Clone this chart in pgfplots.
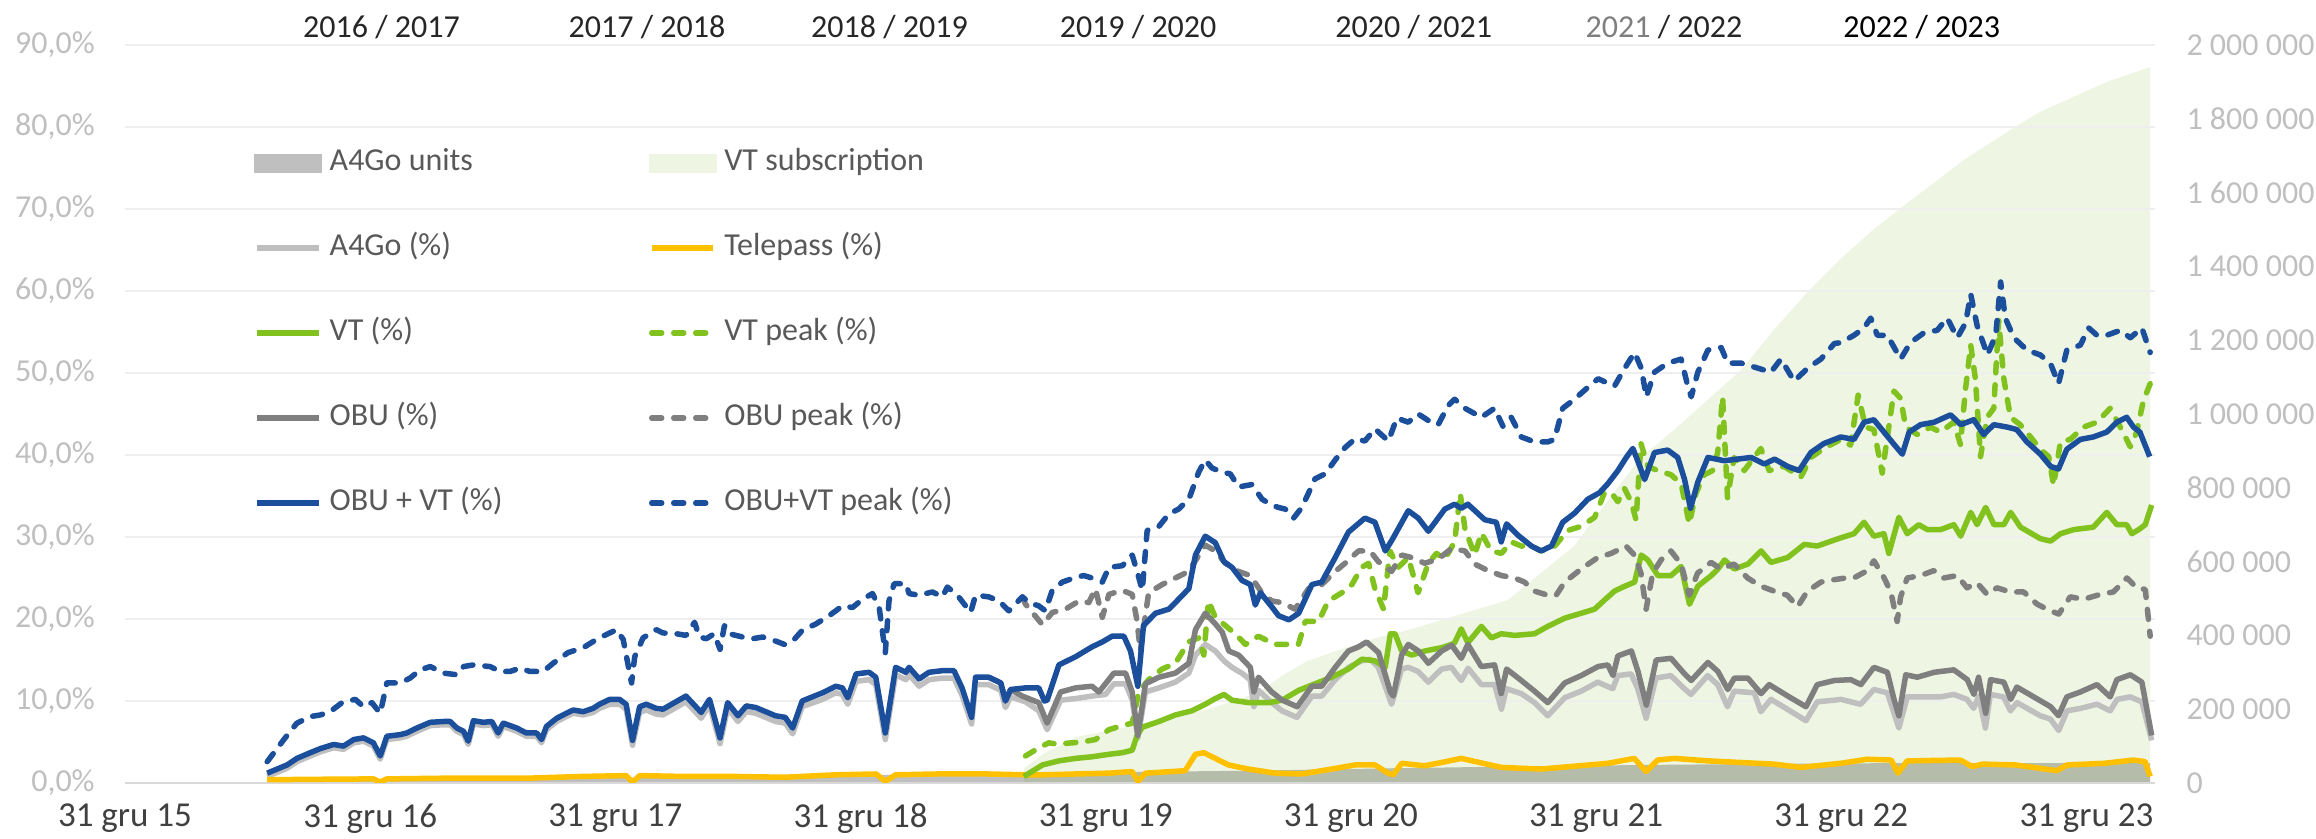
\documentclass[border=0pt]{standalone}
\usepackage{pgfplots}
\pgfplotsset{compat=1.18}
\usepackage{fontspec}
\setmainfont{Carlito}

\definecolor{ovc}{HTML}{1B4F9C}
\definecolor{vtc}{HTML}{82C21E}
\definecolor{obuc}{HTML}{7F7F7F}
\definecolor{a4goc}{HTML}{BFBFBF}
\definecolor{tpc}{HTML}{FFC000}
\definecolor{vtarea}{RGB}{113,172,13}
\definecolor{vtswatch}{HTML}{EEF5E2}
\definecolor{gridc}{HTML}{EFEFEF}
\definecolor{axisc}{HTML}{D9D9D9}
\definecolor{ticklab}{HTML}{BFBFBF}
\definecolor{xlab}{HTML}{404040}
\definecolor{legtext}{HTML}{595959}
\definecolor{toplab}{HTML}{262626}

\newcommand\chartfont{\fontsize{16}{19}\selectfont}
\newcommand\xfont{\fontsize{17.5}{20}\selectfont}

\tikzset{
  a4gol/.style={draw=a4goc, line width=2.75pt, line join=round},
  tpl/.style={draw=tpc, line width=2.75pt, line join=round},
  vtl/.style={draw=vtc, line width=2.75pt, line join=round},
  vtpl/.style={vtl, dash pattern=on 5pt off 6pt, line cap=round},
  obul/.style={draw=obuc, line width=2.75pt, line join=round},
  obupl/.style={obul, dash pattern=on 5pt off 6pt, line cap=round},
  ovl/.style={draw=ovc, line width=2.75pt, line join=round},
  ovpl/.style={ovl, dash pattern=on 5pt off 6pt, line cap=round},
}
\pgfplotsset{
  limg/.style={legend image code/.code={\draw[#1] (1.4pt,0pt) -- (32.1pt,0pt);}},
  aimg/.style={legend image code/.code={\fill[#1] (0pt,-4.5pt) rectangle (33.5pt,4.5pt);}},
}

\begin{document}
\begin{tikzpicture}
\pgfplotsset{every axis/.append style={
  scale only axis, width=1015pt, height=369pt,
  xmin=0, xmax=8.28,
  tick label style={font=\chartfont},
  major tick length=0pt,
}}

% right axis: units (areas)
\begin{axis}[
  ymin=0, ymax=2000000,
  axis x line=none,
  axis y line*=right,
  y axis line style={draw=none},
  scaled y ticks=false,
  ytick={0,200000,400000,600000,800000,1000000,1200000,1400000,1600000,1800000,2000000},
  yticklabels={0,200 000,400 000,600 000,800 000,1 000 000,1 200 000,1 400 000,1 600 000,1 800 000,2 000 000},
  yticklabel style={anchor=west, inner sep=0pt, xshift=15.5pt, text=ticklab},
]
\addplot[fill=a4goc, draw=none] coordinates {
(0.580,4000) (1.035,8000) (2.07,14000) (3.105,22000) (3.726,28000) (4.14,30000) (4.658,34000)
(5.175,40000) (5.693,45000) (6.21,49000) (6.728,52000) (7.245,54000) (8.26,54000)
} \closedcycle;
\addplot[fill=vtarea, fill opacity=0.12, draw=none] coordinates {
(3.667,40000) (3.747,80000) (3.881,125000) (4.037,145000) (4.150,162000) (4.419,200000)
(4.626,246000) (4.720,291000) (4.823,331000) (4.968,364000) (5.103,393000) (5.237,415000)
(5.372,442000) (5.641,496000) (5.910,642000) (6.044,762000) (6.179,880000) (6.324,960000)
(6.458,1040000) (6.593,1120000) (6.728,1230000) (6.862,1330000) (6.997,1420000) (7.131,1500000)
(7.266,1570000) (7.504,1690000) (7.690,1770000) (7.814,1820000) (7.949,1860000) (8.083,1900000)
(8.260,1940000)
} \closedcycle;
\end{axis}

% left axis: shares (%)
\begin{axis}[
  name=main,
  ymin=0, ymax=90,
  axis x line*=bottom,
  axis y line*=left,
  y axis line style={draw=none},
  x axis line style={draw=axisc, line width=1.2pt, -},
  ytick={0,10,...,90},
  yticklabels={{0,0\%},{10,0\%},{20,0\%},{30,0\%},{40,0\%},{50,0\%},{60,0\%},{70,0\%},{80,0\%},{90,0\%}},
  yticklabel style={anchor=east, inner sep=0pt, xshift=-15pt, text=ticklab},
  xtick={0,1,2,3,4,5,6,7,8},
  xticklabels={31 gru 15,31 gru 16,31 gru 17,31 gru 18,31 gru 19,31 gru 20,31 gru 21,31 gru 22,31 gru 23},
  xticklabel style={anchor=north, inner sep=0pt, yshift=-10pt, text=xlab, font=\xfont},
  ymajorgrids, grid style={draw=gridc, line width=1pt},
  clip mode=individual,
  legend columns=2,
  legend cell align=left,
  legend style={
    at={(0.0635,0.8597)}, anchor=north west,
    draw=none, fill=none, inner sep=0pt, outer sep=0pt,
    font=\chartfont, text=legtext,
    row sep=28pt,
    /tikz/every odd column/.append style={column sep=4pt},
    /tikz/every even column/.append style={column sep=73pt},
    nodes={inner sep=0pt, text height=11pt, text depth=3.5pt},
  },
]
\addlegendimage{aimg=a4goc}\addlegendentry{A4Go units}
\addlegendimage{aimg=vtswatch}\addlegendentry{VT subscription}
\addlegendimage{limg=a4gol}\addlegendentry{A4Go (\%)}
\addlegendimage{limg=tpl}\addlegendentry{Telepass (\%)}
\addlegendimage{limg=vtl}\addlegendentry{VT (\%)}
\addlegendimage{limg=vtpl}\addlegendentry{VT peak (\%)}
\addlegendimage{limg=obul}\addlegendentry{OBU (\%)}
\addlegendimage{limg=obupl}\addlegendentry{OBU peak (\%)}
\addlegendimage{limg=ovl}\addlegendentry{OBU + VT (\%)}
\addlegendimage{limg=ovpl}\addlegendentry{OBU+VT peak (\%)}

% A4Go (%)
\addplot[a4gol, forget plot] coordinates {
(0.580,0.8) (0.661,1.8) (0.701,2.6) (0.756,3.3) (0.797,3.8) (0.851,4.3) (0.891,4.1) (0.933,4.9)
(0.973,5.1) (1.013,4.5) (1.041,2.9) (1.068,5.3) (1.123,5.5) (1.149,5.7) (1.190,6.3) (1.245,7.0)
(1.299,7.1) (1.326,7.1) (1.354,6.3) (1.381,5.9) (1.400,4.7) (1.421,7.2) (1.461,7.0) (1.496,7.1)
(1.522,5.7) (1.543,6.9) (1.598,6.3) (1.637,5.7) (1.679,5.7) (1.699,4.9) (1.719,6.5) (1.761,7.5)
(1.800,8.1) (1.828,8.5) (1.869,8.3) (1.909,8.6) (1.935,9.1) (1.977,9.6) (2.017,9.6) (2.044,9.0)
(2.070,4.6) (2.099,8.6) (2.126,8.9) (2.167,8.4) (2.194,8.3) (2.288,9.9) (2.350,7.9) (2.384,9.5)
(2.427,4.8) (2.458,9.1) (2.500,7.5) (2.534,8.7) (2.573,8.5) (2.653,7.5) (2.693,7.3) (2.723,6.0)
(2.762,9.3) (2.845,10.2) (2.899,11.0) (2.926,10.8) (2.948,9.6) (2.982,12.4) (3.035,12.6) (3.062,12.0)
(3.101,5.3) (3.143,13.2) (3.185,12.6) (3.198,13.2) (3.239,11.8) (3.279,12.6) (3.334,12.8) (3.381,12.8)
(3.414,10.7) (3.453,7.2) (3.469,12.0) (3.523,12.0) (3.572,11.3) (3.591,9.2) (3.612,10.5) (3.673,9.9)
(3.727,8.8) (3.761,6.5) (3.816,10.1) (3.877,10.3) (3.944,10.6) (3.999,10.8) (4.033,12.1) (4.081,12.1)
(4.108,10.1) (4.131,5.5) (4.162,11.1) (4.217,11.6) (4.284,12.3) (4.339,13.4) (4.366,15.6) (4.406,16.9)
(4.447,16.1) (4.482,14.9) (4.515,14.1) (4.555,13.4) (4.589,12.6) (4.604,9.3) (4.623,11.3) (4.677,9.8)
(4.719,8.8) (4.780,8.0) (4.841,10.6) (4.881,10.6) (4.936,12.6) (4.990,14.1) (5.044,14.9) (5.078,15.1)
(5.112,14.1) (5.166,9.6) (5.207,13.9) (5.234,14.1) (5.274,13.6) (5.316,12.3) (5.370,13.9) (5.410,14.1)
(5.450,12.5) (5.478,14.0) (5.532,12.0) (5.586,12.0) (5.614,9.0) (5.634,11.5) (5.695,10.9) (5.749,9.8)
(5.803,8.2) (5.872,10.4) (5.939,11.2) (6.007,12.3) (6.068,11.5) (6.089,13.1) (6.143,13.3) (6.170,11.5)
(6.204,7.9) (6.244,12.8) (6.305,13.1) (6.360,11.5) (6.387,10.8) (6.455,13.1) (6.496,12.0) (6.536,9.3)
(6.563,11.2) (6.645,11.0) (6.672,8.7) (6.713,10.2) (6.780,9.0) (6.856,7.6) (6.902,9.9) (6.971,10.1)
(6.998,10.2) (7.079,9.6) (7.133,11.4) (7.188,11.0) (7.235,6.7) (7.269,10.5) (7.404,10.5) (7.459,10.8)
(7.513,10.2) (7.540,9.1) (7.561,10.6) (7.588,6.7) (7.608,10.8) (7.662,10.5) (7.690,8.8) (7.717,9.8)
(7.812,8.2) (7.853,7.8) (7.887,6.4) (7.921,8.8) (7.975,9.1) (8.043,9.6) (8.097,8.8) (8.125,10.2)
(8.179,10.5) (8.226,9.9) (8.266,5.2)
};

% Telepass (%)
\addplot[tpl, forget plot] coordinates {
(0.580,0.4) (0.776,0.45) (1.014,0.5) (1.041,0.1) (1.068,0.5) (1.346,0.6) (1.656,0.6) (1.863,0.8)
(2.044,0.9) (2.070,0.1) (2.099,0.9) (2.277,0.8) (2.484,0.8) (2.691,0.7) (2.898,1.0) (3.064,1.1)
(3.101,0.2) (3.143,1.0) (3.312,1.1) (3.519,1.1) (3.674,1.0) (3.742,1.0) (4.013,1.2) (4.108,1.4)
(4.131,0.2) (4.162,1.2) (4.324,1.5) (4.366,3.5) (4.400,3.7) (4.447,3.0) (4.501,2.2) (4.582,1.7)
(4.691,1.2) (4.799,1.1) (4.921,1.7) (5.017,2.2) (5.098,2.2) (5.152,1.2) (5.173,1.0) (5.207,2.4)
(5.301,2.1) (5.370,2.5) (5.450,3.0) (5.614,1.9) (5.776,1.7) (6.048,2.4) (6.156,3.0) (6.204,1.4)
(6.251,2.8) (6.320,3.0) (6.455,2.7) (6.726,2.3) (6.835,1.9) (6.998,2.4) (7.106,2.9) (7.204,2.8)
(7.231,1.2) (7.269,2.7) (7.486,2.8) (7.534,2.0) (7.576,2.3) (7.711,2.2) (7.879,1.5) (7.921,2.2)
(8.073,2.4) (8.192,2.8) (8.239,2.6) (8.260,0.8)
};

% VT (%)
\addplot[vtl, forget plot] coordinates {
(3.666,0.8) (3.742,2.2) (3.809,2.7) (3.877,3.0) (3.944,3.2) (4.013,3.5) (4.068,3.7) (4.108,4.0)
(4.128,5.8) (4.149,6.8) (4.217,7.5) (4.284,8.3) (4.351,8.8) (4.406,9.6) (4.447,10.3) (4.482,10.8)
(4.515,10.1) (4.583,9.8) (4.665,9.8) (4.720,10.1) (4.787,11.3) (4.854,12.1) (4.921,12.9) (4.990,13.9)
(5.045,15.1) (5.098,14.9) (5.140,14.1) (5.161,18.2) (5.180,18.2) (5.207,16.1) (5.248,15.6) (5.302,16.1)
(5.370,16.5) (5.411,16.9) (5.423,17.1) (5.450,18.8) (5.477,17.1) (5.532,19.1) (5.573,17.7) (5.613,18.2)
(5.668,18.0) (5.749,18.2) (5.803,19.1) (5.872,20.1) (5.939,20.7) (5.994,21.2) (6.034,22.3) (6.075,23.4)
(6.117,24.0) (6.157,24.5) (6.184,27.8) (6.211,27.2) (6.252,25.3) (6.306,25.3) (6.347,26.4) (6.381,21.8)
(6.415,24.0) (6.470,25.3) (6.497,26.1) (6.524,27.2) (6.564,26.1) (6.619,26.7) (6.673,28.3) (6.713,26.9)
(6.782,27.5) (6.849,29.1) (6.902,28.9) (6.998,29.9) (7.052,30.4) (7.093,31.8) (7.133,30.1) (7.174,30.4)
(7.194,28.0) (7.235,32.4) (7.269,30.4) (7.316,31.5) (7.351,30.9) (7.405,30.9) (7.459,31.5) (7.487,30.1)
(7.528,33.0) (7.554,31.5) (7.589,33.6) (7.623,31.5) (7.663,31.5) (7.691,33.0) (7.731,31.2) (7.812,29.8)
(7.854,29.5) (7.894,30.4) (7.948,30.9) (8.028,31.2) (8.083,33.0) (8.124,31.5) (8.164,31.5) (8.185,30.4)
(8.213,30.9) (8.240,31.5) (8.266,33.9)
};

% VT peak (%)
\addplot[vtpl, forget plot] coordinates {
(3.673,3.3) (3.728,4.3) (3.768,4.9) (3.809,4.7) (3.822,4.8) (3.904,5.0) (3.958,5.3) (4.013,6.5)
(4.067,7.0) (4.108,7.3) (4.135,11.1) (4.175,12.6) (4.230,13.9) (4.284,14.6) (4.338,17.2) (4.379,17.7)
(4.400,15.6) (4.419,22.2) (4.447,20.2) (4.488,19.2) (4.528,18.2) (4.570,16.9) (4.623,17.9) (4.691,16.9)
(4.745,16.9) (4.786,16.9) (4.814,19.7) (4.868,19.7) (4.908,22.2) (4.963,23.2) (5.004,24.2) (5.044,26.3)
(5.072,26.8) (5.098,23.7) (5.133,21.2) (5.159,28.3) (5.193,26.3) (5.234,27.5) (5.274,23.2) (5.316,26.8)
(5.349,28.0) (5.383,27.3) (5.423,29.4) (5.446,35.3) (5.465,31.0) (5.505,27.8) (5.532,30.5) (5.572,28.3)
(5.614,28.0) (5.654,29.4) (5.695,28.9) (5.736,28.9) (5.776,28.3) (5.831,28.9) (5.885,30.8) (5.939,31.3)
(5.994,32.4) (6.034,35.4) (6.062,35.4) (6.089,34.3) (6.116,35.9) (6.143,34.3) (6.163,32.1) (6.183,41.4)
(6.211,38.6) (6.251,38.1) (6.305,37.6) (6.347,36.5) (6.380,31.6) (6.408,35.4) (6.442,37.6) (6.475,38.1)
(6.496,40.3) (6.516,47.1) (6.536,34.8) (6.563,39.7) (6.604,38.1) (6.672,40.8) (6.706,38.1) (6.767,38.6)
(6.835,37.3) (6.876,39.7) (6.929,40.8) (6.998,41.9) (7.038,41.2) (7.069,47.3) (7.099,43.4) (7.133,43.1)
(7.167,37.8) (7.188,42.2) (7.215,47.8) (7.242,46.9) (7.263,43.4) (7.310,42.5) (7.364,43.4) (7.404,42.8)
(7.459,44.0) (7.486,41.3) (7.507,48.1) (7.528,53.4) (7.547,49.3) (7.568,39.8) (7.595,44.6) (7.622,45.7)
(7.642,56.4) (7.663,49.3) (7.690,44.6) (7.730,43.7) (7.772,42.2) (7.812,40.7) (7.846,39.8) (7.866,36.3)
(7.894,41.6) (7.934,41.9) (7.988,43.4) (8.043,44.0) (8.097,45.7) (8.138,43.4) (8.179,41.0) (8.205,42.8)
(8.232,46.6) (8.260,48.7)
};

% OBU (%)
\addplot[obul, forget plot] coordinates {
(3.523,12.9) (3.572,12.2) (3.591,10.0) (3.612,11.4) (3.660,10.6) (3.727,9.8) (3.761,7.3) (3.816,11.1)
(3.877,11.6) (3.944,11.8) (3.972,11.1) (3.999,12.1) (4.033,13.4) (4.081,13.4) (4.108,11.1) (4.131,5.8)
(4.162,12.1) (4.217,12.9) (4.284,13.4) (4.339,14.6) (4.366,18.7) (4.406,20.7) (4.447,19.4) (4.475,18.4)
(4.502,16.1) (4.542,15.6) (4.590,14.1) (4.604,11.1) (4.623,12.9) (4.677,11.1) (4.720,10.1) (4.781,9.3)
(4.841,11.8) (4.881,11.8) (4.936,14.1) (4.990,16.1) (5.031,16.6) (5.064,17.2) (5.113,15.9) (5.161,11.1)
(5.173,10.6) (5.207,15.6) (5.234,16.9) (5.275,16.1) (5.316,14.6) (5.370,16.1) (5.411,16.8) (5.450,15.2)
(5.477,16.9) (5.532,14.2) (5.586,14.4) (5.613,10.9) (5.635,13.9) (5.695,12.5) (5.749,11.2) (5.803,9.8)
(5.872,12.2) (5.939,13.1) (6.008,14.2) (6.048,14.4) (6.069,13.1) (6.089,15.5) (6.144,16.1) (6.171,13.6)
(6.205,9.5) (6.245,15.0) (6.306,15.2) (6.361,13.3) (6.388,12.5) (6.456,14.7) (6.497,13.6) (6.537,11.4)
(6.564,12.8) (6.619,12.8) (6.673,10.9) (6.706,12.0) (6.782,10.6) (6.856,9.3) (6.902,12.0) (6.972,12.5)
(7.039,12.6) (7.080,12.0) (7.133,14.1) (7.188,13.5) (7.215,10.2) (7.235,8.2) (7.263,13.2) (7.310,12.9)
(7.379,13.5) (7.459,13.8) (7.514,12.6) (7.541,10.8) (7.560,12.9) (7.589,8.5) (7.609,12.6) (7.663,12.3)
(7.691,10.2) (7.716,11.7) (7.785,10.5) (7.854,9.3) (7.886,8.2) (7.920,10.5) (7.975,11.1) (8.043,12.0)
(8.097,10.5) (8.124,12.6) (8.179,13.2) (8.226,12.3) (8.266,5.8)
};

% OBU peak (%)
\addplot[obupl, forget plot] coordinates {
(3.660,22.7) (3.673,21.8) (3.742,19.3) (3.782,20.8) (3.836,21.2) (3.891,22.2) (3.931,22.0) (3.958,23.7)
(3.986,20.2) (4.013,23.0) (4.067,23.5) (4.108,23.0) (4.128,19.7) (4.141,16.1) (4.175,23.2) (4.230,24.2)
(4.284,25.0) (4.338,25.8) (4.406,29.0) (4.447,28.3) (4.488,26.8) (4.542,25.8) (4.589,25.3) (4.637,23.2)
(4.677,22.2) (4.719,22.0) (4.772,21.2) (4.827,23.7) (4.881,24.2) (4.936,25.8) (4.976,26.8) (5.031,28.3)
(5.078,28.3) (5.112,27.0) (5.166,25.8) (5.207,27.8) (5.247,27.5) (5.301,26.8) (5.356,27.3) (5.410,28.6)
(5.465,28.3) (5.505,26.7) (5.559,25.9) (5.614,25.3) (5.668,25.0) (5.708,24.5) (5.749,23.4) (5.803,22.9)
(5.837,22.9) (5.872,24.5) (5.939,26.1) (6.007,27.5) (6.062,28.0) (6.122,28.9) (6.156,27.8) (6.183,25.6)
(6.204,21.2) (6.231,25.6) (6.265,27.2) (6.305,28.3) (6.347,26.7) (6.380,22.9) (6.414,25.6) (6.469,26.9)
(6.509,26.1) (6.563,26.7) (6.618,25.0) (6.672,24.0) (6.726,23.4) (6.780,22.9) (6.822,21.5) (6.862,23.4)
(6.917,24.5) (6.971,24.8) (7.017,25.0) (7.051,25.0) (7.106,25.9) (7.133,27.1) (7.175,25.0) (7.202,23.3)
(7.228,19.7) (7.242,22.7) (7.269,25.0) (7.324,25.3) (7.377,25.9) (7.418,25.0) (7.473,25.3) (7.513,23.8)
(7.554,24.4) (7.595,23.0) (7.635,23.8) (7.690,23.3) (7.744,23.3) (7.799,21.8) (7.839,21.2) (7.887,20.6)
(7.934,22.7) (7.988,22.4) (8.056,23.0) (8.110,23.3) (8.165,25.0) (8.205,23.8) (8.240,23.6) (8.260,17.9)
};

% OBU + VT (%)
\addplot[ovl, forget plot] coordinates {
(0.580,1.2) (0.661,2.2) (0.701,3.0) (0.756,3.7) (0.797,4.2) (0.851,4.7) (0.891,4.5) (0.933,5.3)
(0.973,5.5) (1.013,4.9) (1.041,3.3) (1.068,5.7) (1.123,5.9) (1.149,6.1) (1.190,6.7) (1.245,7.4)
(1.299,7.5) (1.326,7.5) (1.354,6.7) (1.381,6.3) (1.400,5.1) (1.421,7.6) (1.461,7.4) (1.496,7.5)
(1.522,6.1) (1.543,7.3) (1.598,6.7) (1.637,6.1) (1.679,6.1) (1.699,5.3) (1.719,6.9) (1.761,7.9)
(1.800,8.5) (1.828,8.9) (1.869,8.7) (1.909,9.1) (1.935,9.6) (1.977,10.2) (2.017,10.2) (2.044,9.6)
(2.070,5.2) (2.099,9.3) (2.126,9.6) (2.167,9.1) (2.194,9.0) (2.288,10.6) (2.350,8.6) (2.384,10.2)
(2.427,5.5) (2.458,9.8) (2.500,8.2) (2.534,9.4) (2.573,9.2) (2.653,8.2) (2.693,8.0) (2.723,6.7)
(2.762,10.0) (2.845,11.0) (2.899,11.8) (2.926,11.6) (2.948,10.4) (2.982,13.3) (3.035,13.5) (3.062,12.9)
(3.101,6.1) (3.143,14.1) (3.185,13.5) (3.198,14.1) (3.239,12.7) (3.279,13.5) (3.334,13.7) (3.381,13.7)
(3.414,11.6) (3.453,8.0) (3.469,12.9) (3.523,12.9) (3.572,12.2) (3.591,10.0) (3.612,11.4) (3.673,11.6)
(3.727,11.6) (3.750,10.0) (3.761,10.1) (3.809,14.4) (3.877,15.4) (3.944,16.6) (3.986,17.2) (4.026,17.9)
(4.074,17.9) (4.101,16.1) (4.131,11.8) (4.154,19.2) (4.203,20.7) (4.257,21.2) (4.284,22.0) (4.339,23.7)
(4.366,27.8) (4.406,30.1) (4.447,29.3) (4.482,27.0) (4.515,26.3) (4.556,24.7) (4.590,24.2) (4.610,21.7)
(4.631,23.2) (4.677,21.5) (4.705,20.4) (4.747,19.9) (4.787,20.7) (4.841,24.2) (4.881,24.5) (4.936,27.5)
(4.990,30.6) (5.057,32.3) (5.098,31.8) (5.140,28.3) (5.167,29.6) (5.234,33.2) (5.275,32.3) (5.316,30.7)
(5.383,33.4) (5.423,34.0) (5.450,33.5) (5.477,34.0) (5.546,32.1) (5.593,31.8) (5.613,29.4) (5.635,31.6)
(5.682,30.2) (5.736,28.9) (5.776,28.3) (5.818,28.9) (5.864,31.8) (5.912,32.9) (5.966,34.6) (6.014,35.4)
(6.048,36.5) (6.089,38.1) (6.123,39.7) (6.150,40.8) (6.171,39.2) (6.198,37.0) (6.238,40.3) (6.292,40.6)
(6.333,39.7) (6.361,37.0) (6.385,33.5) (6.415,36.7) (6.456,39.7) (6.523,39.3) (6.577,39.5) (6.632,39.7)
(6.686,38.9) (6.728,39.5) (6.782,38.6) (6.828,38.1) (6.876,40.3) (6.929,41.4) (6.998,42.2) (7.052,41.9)
(7.093,44.0) (7.133,44.3) (7.174,42.8) (7.215,41.3) (7.249,40.1) (7.277,42.8) (7.324,43.7) (7.379,44.0)
(7.446,44.9) (7.487,43.7) (7.540,44.3) (7.581,42.5) (7.622,43.7) (7.677,43.4) (7.716,43.1) (7.757,41.6)
(7.812,40.1) (7.854,38.6) (7.886,38.3) (7.920,40.7) (7.975,41.9) (8.028,42.2) (8.083,42.8) (8.124,44.0)
(8.164,44.6) (8.192,43.4) (8.218,42.8) (8.258,39.8)
};

% OBU+VT peak (%)
\addplot[ovpl, forget plot] coordinates {
(0.580,2.6) (0.648,5.3) (0.701,7.3) (0.756,8.1) (0.797,8.3) (0.837,8.7) (0.885,9.8) (0.939,10.2)
(0.973,9.3) (1.007,9.8) (1.041,8.5) (1.068,12.2) (1.123,12.2) (1.163,12.8) (1.204,13.8) (1.245,14.2)
(1.299,13.4) (1.354,13.2) (1.381,14.2) (1.421,14.4) (1.489,14.2) (1.530,13.6) (1.570,13.6) (1.610,14.0)
(1.652,13.6) (1.706,13.6) (1.746,14.6) (1.807,15.9) (1.869,16.5) (1.923,17.5) (1.963,18.1) (2.005,18.7)
(2.032,17.5) (2.066,12.2) (2.079,15.4) (2.113,17.7) (2.167,18.7) (2.194,18.3) (2.249,18.2) (2.288,18.0)
(2.323,19.6) (2.343,17.8) (2.371,17.6) (2.403,18.2) (2.427,16.3) (2.445,19.2) (2.465,18.2) (2.519,17.8)
(2.561,17.6) (2.601,17.8) (2.655,17.3) (2.689,16.9) (2.723,17.3) (2.762,18.6) (2.818,19.4) (2.872,20.4)
(2.926,21.6) (2.967,21.4) (3.008,22.4) (3.049,23.1) (3.076,21.4) (3.101,15.9) (3.116,22.2) (3.137,24.3)
(3.185,24.3) (3.198,23.1) (3.239,22.9) (3.293,23.3) (3.334,22.7) (3.354,23.9) (3.395,22.9) (3.449,20.8)
(3.469,22.9) (3.523,22.7) (3.565,22.2) (3.605,21.0) (3.660,22.7) (3.688,22.0) (3.727,21.6) (3.754,21.0)
(3.782,23.5) (3.823,24.5) (3.870,25.0) (3.910,25.3) (3.944,25.0) (3.986,24.5) (4.013,26.3) (4.068,26.5)
(4.108,27.8) (4.128,25.8) (4.149,23.5) (4.169,30.8) (4.217,31.3) (4.257,32.8) (4.297,33.4) (4.339,34.6)
(4.379,37.9) (4.406,39.4) (4.434,38.4) (4.475,37.9) (4.508,37.7) (4.542,36.1) (4.596,36.4) (4.638,34.6)
(4.677,33.9) (4.705,33.6) (4.732,33.4) (4.766,32.3) (4.800,33.6) (4.854,37.1) (4.895,37.7) (4.936,39.4)
(4.976,40.9) (5.018,42.0) (5.057,41.7) (5.098,43.2) (5.153,41.7) (5.187,44.5) (5.234,44.0) (5.275,45.0)
(5.316,44.2) (5.356,43.7) (5.396,46.0) (5.423,46.8) (5.465,45.7) (5.532,44.6) (5.586,45.7) (5.620,43.5)
(5.654,44.6) (5.695,42.2) (5.749,41.6) (5.803,41.6) (5.830,41.9) (5.864,45.7) (5.912,46.8) (5.953,47.9)
(6.008,49.3) (6.075,48.4) (6.117,50.6) (6.157,52.5) (6.184,50.6) (6.205,47.1) (6.238,50.1) (6.292,51.2)
(6.347,51.7) (6.374,48.4) (6.388,47.1) (6.415,50.1) (6.456,52.8) (6.510,53.1) (6.537,51.2) (6.592,51.2)
(6.659,50.6) (6.713,50.1) (6.754,51.7) (6.808,49.0) (6.863,50.6) (6.917,51.7) (6.972,53.6) (6.998,53.7)
(7.052,54.6) (7.093,55.5) (7.120,56.7) (7.147,54.6) (7.188,54.6) (7.242,51.7) (7.282,53.7) (7.337,54.9)
(7.391,55.2) (7.432,56.7) (7.473,54.3) (7.507,56.1) (7.528,59.6) (7.554,55.8) (7.596,52.2) (7.630,54.6)
(7.650,61.1) (7.669,56.7) (7.704,54.3) (7.757,52.8) (7.812,52.2) (7.854,51.1) (7.886,48.7) (7.920,52.8)
(7.975,53.4) (8.009,55.5) (8.043,54.6) (8.083,54.6) (8.137,55.2) (8.179,54.3) (8.226,55.5) (8.260,52.5)
};

% fiscal-year captions above the plot
\node[anchor=base, font=\chartfont, text=toplab] at (axis cs:1.046,90.94) {2016 / 2017};
\node[anchor=base, font=\chartfont, text=toplab] at (axis cs:2.129,90.94) {2017 / 2018};
\node[anchor=base, font=\chartfont, text=toplab] at (axis cs:3.118,90.94) {2018 / 2019};
\node[anchor=base, font=\chartfont, text=toplab] at (axis cs:4.132,90.94) {2019 / 2020};
\node[anchor=base, font=\chartfont, text=toplab] at (axis cs:5.256,90.94) {2020 / 2021};
\node[anchor=base, font=\chartfont, text=toplab] at (axis cs:6.277,90.94) {\textcolor{obuc}{2021} / 2022};
\node[anchor=base, font=\chartfont, text=black] at (axis cs:7.328,90.94) {2022 / 2023};
\end{axis}

\pgfresetboundingbox
\path[use as bounding box] ([xshift=-62.5pt,yshift=-28pt]main.south west) rectangle ([xshift=1095.5pt,yshift=391.5pt]main.south west);
\end{tikzpicture}
\end{document}
